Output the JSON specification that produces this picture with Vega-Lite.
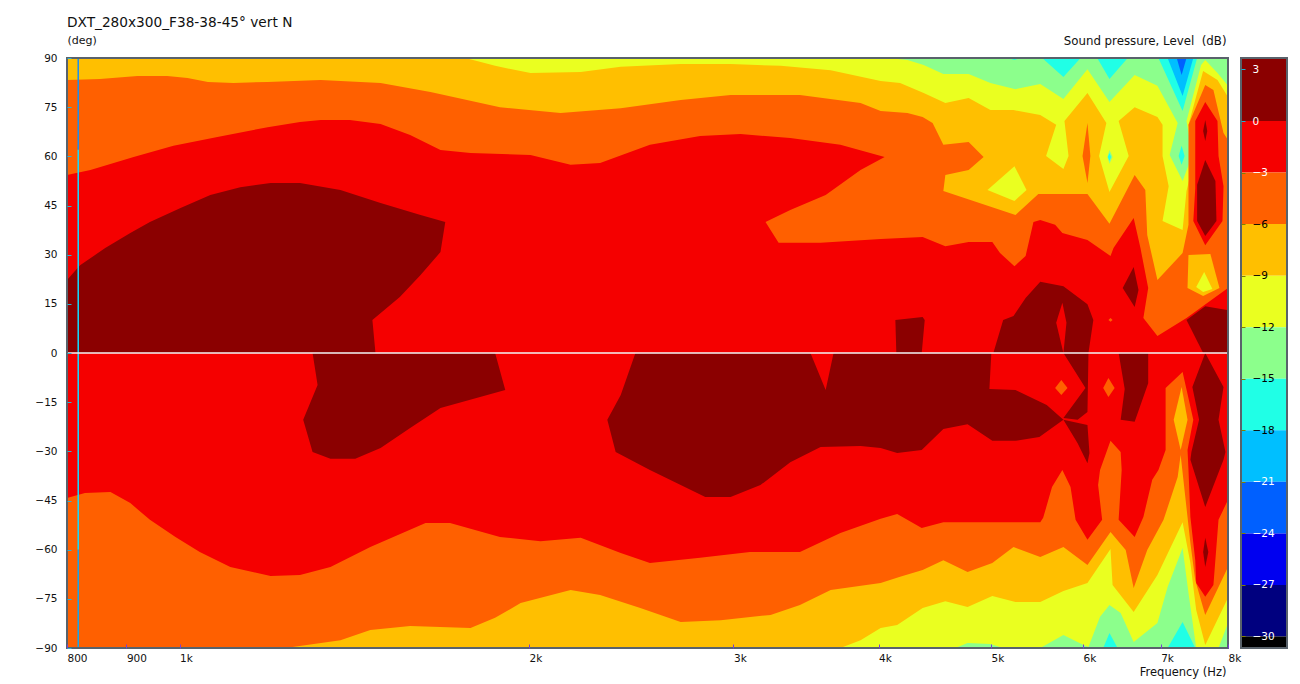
{"$schema":"https://vega.github.io/schema/vega-lite/v6.json","background":"white","padding":{"left":34,"top":16,"right":5,"bottom":5},"bounds":"flush","spacing":13,"config":{"view":{"stroke":null},"font":"DejaVu Sans"},
"datasets":{"polys":[
{"p":"t1","l":-15,"f":3939,"d":90},{"p":"t1","l":-15,"f":8000,"d":90},{"p":"t1","l":-15,"f":8000,"d":46.7},{"p":"t1","l":-15,"f":3939,"d":46.7},
{"p":"c0","l":-18,"f":5175,"d":90},{"p":"c0","l":-18,"f":5238,"d":89.4},{"p":"c0","l":-18,"f":5302,"d":90},
{"p":"c1","l":-18,"f":5534,"d":90},{"p":"c1","l":-18,"f":5772,"d":84.2},{"p":"c1","l":-18,"f":5972,"d":90},
{"p":"c2","l":-18,"f":6172,"d":90},{"p":"c2","l":-18,"f":6324,"d":83.6},{"p":"c2","l":-18,"f":6557,"d":90},
{"p":"c3","l":-18,"f":6969,"d":90},{"p":"c3","l":-18,"f":7311,"d":73.8},{"p":"c3","l":-18,"f":7525,"d":90},
{"p":"s1","l":-21,"f":7097,"d":90},{"p":"s1","l":-21,"f":7311,"d":78.4},{"p":"s1","l":-21,"f":7468,"d":90},
{"p":"b1","l":-24,"f":7226,"d":90},{"p":"b1","l":-24,"f":7297,"d":84.8},{"p":"b1","l":-24,"f":7368,"d":90},
{"p":"ty","l":-12,"f":1763,"d":90},{"p":"ty","l":-12,"f":4073,"d":90},{"p":"ty","l":-12,"f":4236,"d":89.4},{"p":"ty","l":-12,"f":4375,"d":87.9},{"p":"ty","l":-12,"f":4549,"d":85.1},{"p":"ty","l":-12,"f":4783,"d":85.1},{"p":"ty","l":-12,"f":4994,"d":82.4},{"p":"ty","l":-12,"f":5249,"d":80.5},{"p":"ty","l":-12,"f":5513,"d":82.1},{"p":"ty","l":-12,"f":5772,"d":77.5},{"p":"ty","l":-12,"f":6054,"d":86.6},{"p":"ty","l":-12,"f":6324,"d":76.6},{"p":"ty","l":-12,"f":6648,"d":84.8},{"p":"ty","l":-12,"f":6955,"d":81.5},{"p":"ty","l":-12,"f":7240,"d":70.2},{"p":"ty","l":-12,"f":7126,"d":60.4},{"p":"ty","l":-12,"f":7311,"d":52.5},{"p":"ty","l":-12,"f":7454,"d":60.4},{"p":"ty","l":-12,"f":7368,"d":70.8},{"p":"ty","l":-12,"f":7584,"d":87.9},{"p":"ty","l":-12,"f":7647,"d":89.4},{"p":"ty","l":-12,"f":7835,"d":85.4},{"p":"ty","l":-12,"f":8000,"d":81.5},{"p":"ty","l":-12,"f":8000,"d":0},{"p":"ty","l":-12,"f":1763,"d":0},
{"p":"ta","l":-9,"f":800,"d":90},{"p":"ta","l":-9,"f":1763,"d":90},{"p":"ta","l":-9,"f":1870,"d":87.6},{"p":"ta","l":-9,"f":2006,"d":85.4},{"p":"ta","l":-9,"f":2216,"d":85.7},{"p":"ta","l":-9,"f":2399,"d":87.3},{"p":"ta","l":-9,"f":2702,"d":88.2},{"p":"ta","l":-9,"f":2983,"d":88.2},{"p":"ta","l":-9,"f":3294,"d":87.6},{"p":"ta","l":-9,"f":3638,"d":86.3},{"p":"ta","l":-9,"f":4017,"d":83},{"p":"ta","l":-9,"f":4175,"d":82.4},{"p":"ta","l":-9,"f":4375,"d":79.3},{"p":"ta","l":-9,"f":4567,"d":76.3},{"p":"ta","l":-9,"f":4783,"d":77.8},{"p":"ta","l":-9,"f":4994,"d":74.1},{"p":"ta","l":-9,"f":5228,"d":74.1},{"p":"ta","l":-9,"f":5513,"d":72.6},{"p":"ta","l":-9,"f":5690,"d":69.6},{"p":"ta","l":-9,"f":5577,"d":60.1},{"p":"ta","l":-9,"f":5772,"d":56.1},{"p":"ta","l":-9,"f":5831,"d":60.1},{"p":"ta","l":-9,"f":5784,"d":70.8},{"p":"ta","l":-9,"f":6054,"d":79.3},{"p":"ta","l":-9,"f":6285,"d":70.2},{"p":"ta","l":-9,"f":6195,"d":60.1},{"p":"ta","l":-9,"f":6324,"d":49.1},{"p":"ta","l":-9,"f":6570,"d":60.1},{"p":"ta","l":-9,"f":6440,"d":70.8},{"p":"ta","l":-9,"f":6648,"d":75},{"p":"ta","l":-9,"f":6955,"d":72},{"p":"ta","l":-9,"f":7026,"d":69.6},{"p":"ta","l":-9,"f":7026,"d":60.1},{"p":"ta","l":-9,"f":7112,"d":50.9},{"p":"ta","l":-9,"f":7026,"d":40.3},{"p":"ta","l":-9,"f":7311,"d":37.5},{"p":"ta","l":-9,"f":7368,"d":49.4},{"p":"ta","l":-9,"f":7497,"d":60.4},{"p":"ta","l":-9,"f":7397,"d":69.6},{"p":"ta","l":-9,"f":7615,"d":86},{"p":"ta","l":-9,"f":7835,"d":83.3},{"p":"ta","l":-9,"f":8000,"d":78.1},{"p":"ta","l":-9,"f":8000,"d":0},{"p":"ta","l":-9,"f":800,"d":0},
{"p":"yi","l":-12,"f":4965,"d":49.7},{"p":"yi","l":-12,"f":5238,"d":57},{"p":"yi","l":-12,"f":5365,"d":49.7},{"p":"yi","l":-12,"f":5238,"d":46.4},
{"p":"gd","l":-15,"f":6324,"d":61.9},{"p":"gd","l":-15,"f":6363,"d":59.8},{"p":"gd","l":-15,"f":6324,"d":57.7},{"p":"gd","l":-15,"f":6298,"d":59.8},
{"p":"cd","l":-18,"f":6324,"d":61},{"p":"cd","l":-18,"f":6344,"d":59.8},{"p":"cd","l":-18,"f":6324,"d":58.6},{"p":"cd","l":-18,"f":6304,"d":59.8},
{"p":"ce","l":-18,"f":7297,"d":63.2},{"p":"ce","l":-18,"f":7340,"d":60.1},{"p":"ce","l":-18,"f":7297,"d":57.4},{"p":"ce","l":-18,"f":7254,"d":60.1},
{"p":"to","l":-6,"f":800,"d":83.3},{"p":"to","l":-6,"f":854,"d":83.6},{"p":"to","l":-6,"f":920,"d":84.5},{"p":"to","l":-6,"f":976,"d":84.5},{"p":"to","l":-6,"f":1016,"d":83.9},{"p":"to","l":-6,"f":1058,"d":82.7},{"p":"to","l":-6,"f":1113,"d":82.4},{"p":"to","l":-6,"f":1191,"d":82.7},{"p":"to","l":-6,"f":1323,"d":83.3},{"p":"to","l":-6,"f":1490,"d":82.4},{"p":"to","l":-6,"f":1645,"d":79.6},{"p":"to","l":-6,"f":1888,"d":75},{"p":"to","l":-6,"f":2129,"d":73.2},{"p":"to","l":-6,"f":2399,"d":74.7},{"p":"to","l":-6,"f":2702,"d":77.2},{"p":"to","l":-6,"f":2983,"d":78.7},{"p":"to","l":-6,"f":3423,"d":78.7},{"p":"to","l":-6,"f":3860,"d":76.3},{"p":"to","l":-6,"f":4017,"d":73.8},{"p":"to","l":-6,"f":4236,"d":73.2},{"p":"to","l":-6,"f":4366,"d":72},{"p":"to","l":-6,"f":4453,"d":70.2},{"p":"to","l":-6,"f":4549,"d":63.5},{"p":"to","l":-6,"f":4783,"d":64.4},{"p":"to","l":-6,"f":4927,"d":59.8},{"p":"to","l":-6,"f":4783,"d":55.8},{"p":"to","l":-6,"f":4567,"d":54.3},{"p":"to","l":-6,"f":4549,"d":49.4},{"p":"to","l":-6,"f":5249,"d":42.1},{"p":"to","l":-6,"f":5492,"d":48.5},{"p":"to","l":-6,"f":6054,"d":48.5},{"p":"to","l":-6,"f":6324,"d":39.4},{"p":"to","l":-6,"f":6648,"d":54.3},{"p":"to","l":-6,"f":6790,"d":49.7},{"p":"to","l":-6,"f":6816,"d":36},{"p":"to","l":-6,"f":6955,"d":22.3},{"p":"to","l":-6,"f":7311,"d":30.5},{"p":"to","l":-6,"f":7397,"d":39.1},{"p":"to","l":-6,"f":7397,"d":69.6},{"p":"to","l":-6,"f":7647,"d":81.8},{"p":"to","l":-6,"f":7772,"d":80.2},{"p":"to","l":-6,"f":7929,"d":67.1},{"p":"to","l":-6,"f":8000,"d":65},{"p":"to","l":-6,"f":8000,"d":0},{"p":"to","l":-6,"f":800,"d":0},
{"p":"oi","l":-6,"f":6054,"d":70.2},{"p":"oi","l":-6,"f":6089,"d":60.1},{"p":"oi","l":-6,"f":6054,"d":51.9},{"p":"oi","l":-6,"f":5995,"d":60.1},
{"p":"tr","l":-3,"f":800,"d":54.3},{"p":"tr","l":-3,"f":838,"d":55.8},{"p":"tr","l":-3,"f":913,"d":59.8},{"p":"tr","l":-3,"f":988,"d":63.2},{"p":"tr","l":-3,"f":1078,"d":65.9},{"p":"tr","l":-3,"f":1191,"d":68.9},{"p":"tr","l":-3,"f":1270,"d":70.5},{"p":"tr","l":-3,"f":1323,"d":71.1},{"p":"tr","l":-3,"f":1402,"d":71.1},{"p":"tr","l":-3,"f":1490,"d":69.9},{"p":"tr","l":-3,"f":1580,"d":66.5},{"p":"tr","l":-3,"f":1678,"d":61.9},{"p":"tr","l":-3,"f":1781,"d":61},{"p":"tr","l":-3,"f":2006,"d":60.4},{"p":"tr","l":-3,"f":2172,"d":57.4},{"p":"tr","l":-3,"f":2303,"d":58},{"p":"tr","l":-3,"f":2542,"d":63.5},{"p":"tr","l":-3,"f":2808,"d":66.2},{"p":"tr","l":-3,"f":3042,"d":66.8},{"p":"tr","l":-3,"f":3358,"d":65.6},{"p":"tr","l":-3,"f":3709,"d":63.5},{"p":"tr","l":-3,"f":4049,"d":59.8},{"p":"tr","l":-3,"f":3860,"d":55.8},{"p":"tr","l":-3,"f":3602,"d":48.2},{"p":"tr","l":-3,"f":3358,"d":43.6},{"p":"tr","l":-3,"f":3197,"d":40},{"p":"tr","l":-3,"f":3281,"d":33.6},{"p":"tr","l":-3,"f":3566,"d":33.6},{"p":"tr","l":-3,"f":4017,"d":34.8},{"p":"tr","l":-3,"f":4366,"d":35.4},{"p":"tr","l":-3,"f":4567,"d":32.6},{"p":"tr","l":-3,"f":4783,"d":33.9},{"p":"tr","l":-3,"f":5013,"d":33.9},{"p":"tr","l":-3,"f":5090,"d":30.5},{"p":"tr","l":-3,"f":5238,"d":26.5},{"p":"tr","l":-3,"f":5355,"d":29.6},{"p":"tr","l":-3,"f":5439,"d":40},{"p":"tr","l":-3,"f":5513,"d":40.6},{"p":"tr","l":-3,"f":5678,"d":39.1},{"p":"tr","l":-3,"f":5760,"d":36.6},{"p":"tr","l":-3,"f":6054,"d":34.5},{"p":"tr","l":-3,"f":6337,"d":29.6},{"p":"tr","l":-3,"f":6375,"d":32},{"p":"tr","l":-3,"f":6635,"d":41.2},{"p":"tr","l":-3,"f":6725,"d":32},{"p":"tr","l":-3,"f":6829,"d":19.8},{"p":"tr","l":-3,"f":6764,"d":10.7},{"p":"tr","l":-3,"f":6955,"d":5.2},{"p":"tr","l":-3,"f":7368,"d":10.7},{"p":"tr","l":-3,"f":8000,"d":19.8},{"p":"tr","l":-3,"f":8000,"d":0},{"p":"tr","l":-3,"f":800,"d":0},
{"p":"ap","l":-9,"f":7397,"d":29.9},{"p":"ap","l":-9,"f":7725,"d":30.2},{"p":"ap","l":-9,"f":7866,"d":19.8},{"p":"ap","l":-9,"f":7615,"d":17.4},{"p":"ap","l":-9,"f":7383,"d":19.8},
{"p":"yp","l":-12,"f":7631,"d":24.7},{"p":"yp","l":-12,"f":7756,"d":19.5},{"p":"yp","l":-12,"f":7615,"d":18.6},{"p":"yp","l":-12,"f":7511,"d":20.1},
{"p":"rs","l":-3,"f":7647,"d":76.6},{"p":"rs","l":-3,"f":7835,"d":70.8},{"p":"rs","l":-3,"f":7851,"d":60.1},{"p":"rs","l":-3,"f":7929,"d":50.9},{"p":"rs","l":-3,"f":7913,"d":40.3},{"p":"rs","l":-3,"f":7647,"d":32.9},{"p":"rs","l":-3,"f":7468,"d":40.3},{"p":"rs","l":-3,"f":7497,"d":50.3},{"p":"rs","l":-3,"f":7497,"d":70.8},
{"p":"d1","l":0,"f":7647,"d":71.1},{"p":"d1","l":0,"f":7678,"d":67.7},{"p":"d1","l":0,"f":7647,"d":64.7},{"p":"d1","l":0,"f":7615,"d":67.7},
{"p":"d2","l":0,"f":7647,"d":58.9},{"p":"d2","l":0,"f":7803,"d":52.5},{"p":"d2","l":0,"f":7819,"d":40.3},{"p":"d2","l":0,"f":7647,"d":35.7},{"p":"d2","l":0,"f":7525,"d":40.3},{"p":"d2","l":0,"f":7525,"d":51.3},
{"p":"d3","l":0,"f":800,"d":22.3},{"p":"d3","l":0,"f":821,"d":26.8},{"p":"d3","l":0,"f":863,"d":32},{"p":"d3","l":0,"f":907,"d":36.6},{"p":"d3","l":0,"f":943,"d":40},{"p":"d3","l":0,"f":1002,"d":44.2},{"p":"d3","l":0,"f":1063,"d":48.2},{"p":"d3","l":0,"f":1128,"d":50.6},{"p":"d3","l":0,"f":1198,"d":51.9},{"p":"d3","l":0,"f":1270,"d":51.9},{"p":"d3","l":0,"f":1376,"d":49.7},{"p":"d3","l":0,"f":1490,"d":45.8},{"p":"d3","l":0,"f":1613,"d":42.1},{"p":"d3","l":0,"f":1694,"d":40},{"p":"d3","l":0,"f":1678,"d":30.8},{"p":"d3","l":0,"f":1613,"d":23.8},{"p":"d3","l":0,"f":1548,"d":17.1},{"p":"d3","l":0,"f":1466,"d":10.1},{"p":"d3","l":0,"f":1475,"d":0},{"p":"d3","l":0,"f":800,"d":0},
{"p":"d4","l":0,"f":4136,"d":10.1},{"p":"d4","l":0,"f":4366,"d":11},{"p":"d4","l":0,"f":4384,"d":10.1},{"p":"d4","l":0,"f":4358,"d":0},{"p":"d4","l":0,"f":4144,"d":0},
{"p":"d5","l":0,"f":5023,"d":0},{"p":"d5","l":0,"f":5122,"d":10.1},{"p":"d5","l":0,"f":5228,"d":11.3},{"p":"d5","l":0,"f":5355,"d":16.8},{"p":"d5","l":0,"f":5513,"d":21.7},{"p":"d5","l":0,"f":5772,"d":20.4},{"p":"d5","l":0,"f":6054,"d":14.9},{"p":"d5","l":0,"f":6125,"d":10.1},{"p":"d5","l":0,"f":6066,"d":0},
{"p":"rh","l":-3,"f":5760,"d":15.3},{"p":"rh","l":-3,"f":5807,"d":9.2},{"p":"rh","l":-3,"f":5772,"d":0},{"p":"rh","l":-3,"f":5690,"d":9.2},
{"p":"d6","l":0,"f":6635,"d":26.2},{"p":"d6","l":0,"f":6699,"d":19.2},{"p":"d6","l":0,"f":6648,"d":14},{"p":"d6","l":0,"f":6492,"d":19.8},
{"p":"d7","l":0,"f":7368,"d":10.1},{"p":"d7","l":0,"f":7647,"d":14.3},{"p":"d7","l":0,"f":7984,"d":13.1},{"p":"d7","l":0,"f":8000,"d":0},{"p":"d7","l":0,"f":7615,"d":0},
{"p":"sp","l":-6,"f":6337,"d":10.7},{"p":"sp","l":-6,"f":6363,"d":10.1},{"p":"sp","l":-6,"f":6337,"d":9.5},{"p":"sp","l":-6,"f":6311,"d":10.1},
{"p":"g2","l":-15,"f":4610,"d":-57},{"p":"g2","l":-15,"f":8000,"d":-57},{"p":"g2","l":-15,"f":8000,"d":-90},{"p":"g2","l":-15,"f":4610,"d":-90},
{"p":"c5","l":-18,"f":6246,"d":-90},{"p":"c5","l":-18,"f":6324,"d":-85.4},{"p":"c5","l":-18,"f":6427,"d":-90},
{"p":"c6","l":-18,"f":7097,"d":-90},{"p":"c6","l":-18,"f":7311,"d":-82.1},{"p":"c6","l":-18,"f":7497,"d":-90},
{"p":"by","l":-12,"f":3709,"d":-90},{"p":"by","l":-12,"f":4658,"d":-90},{"p":"by","l":-12,"f":4773,"d":-88.5},{"p":"by","l":-12,"f":4994,"d":-88.8},{"p":"by","l":-12,"f":5122,"d":-90},{"p":"by","l":-12,"f":5513,"d":-90},{"p":"by","l":-12,"f":5772,"d":-86},{"p":"by","l":-12,"f":6007,"d":-89.1},{"p":"by","l":-12,"f":6066,"d":-89.7},{"p":"by","l":-12,"f":6207,"d":-80.5},{"p":"by","l":-12,"f":6324,"d":-76.9},{"p":"by","l":-12,"f":6466,"d":-79.3},{"p":"by","l":-12,"f":6635,"d":-88.2},{"p":"by","l":-12,"f":6955,"d":-82.4},{"p":"by","l":-12,"f":7097,"d":-71.4},{"p":"by","l":-12,"f":7311,"d":-59.5},{"p":"by","l":-12,"f":7397,"d":-73.2},{"p":"by","l":-12,"f":7511,"d":-90},{"p":"by","l":-12,"f":7851,"d":-90},{"p":"by","l":-12,"f":8000,"d":-82.4},{"p":"by","l":-12,"f":8000,"d":0},{"p":"by","l":-12,"f":3709,"d":0},
{"p":"ba","l":-9,"f":1234,"d":-90},{"p":"ba","l":-9,"f":3709,"d":-90},{"p":"ba","l":-9,"f":3860,"d":-87.6},{"p":"ba","l":-9,"f":4017,"d":-83.9},{"p":"ba","l":-9,"f":4151,"d":-83},{"p":"ba","l":-9,"f":4366,"d":-77.8},{"p":"ba","l":-9,"f":4567,"d":-75.7},{"p":"ba","l":-9,"f":4773,"d":-77.5},{"p":"ba","l":-9,"f":5013,"d":-74.1},{"p":"ba","l":-9,"f":5249,"d":-76},{"p":"ba","l":-9,"f":5513,"d":-76},{"p":"ba","l":-9,"f":5772,"d":-72.6},{"p":"ba","l":-9,"f":6054,"d":-70.2},{"p":"ba","l":-9,"f":6337,"d":-59.8},{"p":"ba","l":-9,"f":6363,"d":-70.8},{"p":"ba","l":-9,"f":6635,"d":-79},{"p":"ba","l":-9,"f":6955,"d":-67.7},{"p":"ba","l":-9,"f":7311,"d":-51.6},{"p":"ba","l":-9,"f":7425,"d":-64.1},{"p":"ba","l":-9,"f":7511,"d":-78.4},{"p":"ba","l":-9,"f":7647,"d":-89.1},{"p":"ba","l":-9,"f":8000,"d":-74.7},{"p":"ba","l":-9,"f":8000,"d":0},{"p":"ba","l":-9,"f":1234,"d":0},
{"p":"bo","l":-6,"f":800,"d":-90},{"p":"bo","l":-6,"f":1234,"d":-90},{"p":"bo","l":-6,"f":1376,"d":-87.6},{"p":"bo","l":-6,"f":1460,"d":-84.5},{"p":"bo","l":-6,"f":1580,"d":-83.3},{"p":"bo","l":-6,"f":1781,"d":-83.9},{"p":"bo","l":-6,"f":1870,"d":-80.8},{"p":"bo","l":-6,"f":1967,"d":-76.3},{"p":"bo","l":-6,"f":2172,"d":-72.3},{"p":"bo","l":-6,"f":2303,"d":-73.8},{"p":"bo","l":-6,"f":2494,"d":-77.8},{"p":"bo","l":-6,"f":2702,"d":-82.1},{"p":"bo","l":-6,"f":2925,"d":-81.5},{"p":"bo","l":-6,"f":3229,"d":-79.9},{"p":"bo","l":-6,"f":3423,"d":-76.9},{"p":"bo","l":-6,"f":3638,"d":-72.3},{"p":"bo","l":-6,"f":4017,"d":-70.2},{"p":"bo","l":-6,"f":4175,"d":-68.3},{"p":"bo","l":-6,"f":4366,"d":-66.2},{"p":"bo","l":-6,"f":4549,"d":-63.2},{"p":"bo","l":-6,"f":4773,"d":-66.8},{"p":"bo","l":-6,"f":5013,"d":-64.1},{"p":"bo","l":-6,"f":5228,"d":-59.2},{"p":"bo","l":-6,"f":5513,"d":-62.2},{"p":"bo","l":-6,"f":5772,"d":-59.2},{"p":"bo","l":-6,"f":6054,"d":-64.7},{"p":"bo","l":-6,"f":6337,"d":-54.6},{"p":"bo","l":-6,"f":6531,"d":-60.1},{"p":"bo","l":-6,"f":6635,"d":-71.7},{"p":"bo","l":-6,"f":6816,"d":-60.1},{"p":"bo","l":-6,"f":7040,"d":-50.9},{"p":"bo","l":-6,"f":7240,"d":-37.8},{"p":"bo","l":-6,"f":7283,"d":-31.1},{"p":"bo","l":-6,"f":7425,"d":-58},{"p":"bo","l":-6,"f":7497,"d":-69.3},{"p":"bo","l":-6,"f":7647,"d":-79.9},{"p":"bo","l":-6,"f":8000,"d":-65.3},{"p":"bo","l":-6,"f":8000,"d":0},{"p":"bo","l":-6,"f":800,"d":0},
{"p":"br","l":-3,"f":800,"d":0},{"p":"br","l":-3,"f":800,"d":-44.2},{"p":"br","l":-3,"f":829,"d":-42.7},{"p":"br","l":-3,"f":872,"d":-42.4},{"p":"br","l":-3,"f":907,"d":-45.8},{"p":"br","l":-3,"f":943,"d":-50.9},{"p":"br","l":-3,"f":992,"d":-56.1},{"p":"br","l":-3,"f":1041,"d":-60.7},{"p":"br","l":-3,"f":1106,"d":-65.3},{"p":"br","l":-3,"f":1198,"d":-68},{"p":"br","l":-3,"f":1270,"d":-67.7},{"p":"br","l":-3,"f":1349,"d":-65.3},{"p":"br","l":-3,"f":1460,"d":-59.2},{"p":"br","l":-3,"f":1629,"d":-51.9},{"p":"br","l":-3,"f":1710,"d":-51.9},{"p":"br","l":-3,"f":1888,"d":-56.1},{"p":"br","l":-3,"f":2046,"d":-57.4},{"p":"br","l":-3,"f":2216,"d":-56.4},{"p":"br","l":-3,"f":2399,"d":-61},{"p":"br","l":-3,"f":2542,"d":-64.1},{"p":"br","l":-3,"f":2808,"d":-62.5},{"p":"br","l":-3,"f":3100,"d":-60.7},{"p":"br","l":-3,"f":3423,"d":-60.7},{"p":"br","l":-3,"f":3709,"d":-54.9},{"p":"br","l":-3,"f":4017,"d":-50.6},{"p":"br","l":-3,"f":4151,"d":-49.1},{"p":"br","l":-3,"f":4358,"d":-53.4},{"p":"br","l":-3,"f":4549,"d":-51.6},{"p":"br","l":-3,"f":5013,"d":-51.6},{"p":"br","l":-3,"f":5513,"d":-51.6},{"p":"br","l":-3,"f":5545,"d":-50.3},{"p":"br","l":-3,"f":5643,"d":-40.9},{"p":"br","l":-3,"f":5760,"d":-35.7},{"p":"br","l":-3,"f":5854,"d":-40.9},{"p":"br","l":-3,"f":5913,"d":-50.9},{"p":"br","l":-3,"f":6054,"d":-57},{"p":"br","l":-3,"f":6233,"d":-50.9},{"p":"br","l":-3,"f":6183,"d":-40.3},{"p":"br","l":-3,"f":6207,"d":-35.7},{"p":"br","l":-3,"f":6337,"d":-26.8},{"p":"br","l":-3,"f":6466,"d":-30.2},{"p":"br","l":-3,"f":6479,"d":-35.7},{"p":"br","l":-3,"f":6440,"d":-50.9},{"p":"br","l":-3,"f":6648,"d":-56.1},{"p":"br","l":-3,"f":6764,"d":-50},{"p":"br","l":-3,"f":6884,"d":-38.7},{"p":"br","l":-3,"f":6969,"d":-35.7},{"p":"br","l":-3,"f":7069,"d":-29.6},{"p":"br","l":-3,"f":7069,"d":-10.7},{"p":"br","l":-3,"f":7311,"d":-5.8},{"p":"br","l":-3,"f":7468,"d":-20.4},{"p":"br","l":-3,"f":7383,"d":-29.6},{"p":"br","l":-3,"f":7397,"d":-35.7},{"p":"br","l":-3,"f":7425,"d":-50},{"p":"br","l":-3,"f":7497,"d":-63.2},{"p":"br","l":-3,"f":7511,"d":-70.2},{"p":"br","l":-3,"f":7647,"d":-74.4},{"p":"br","l":-3,"f":7772,"d":-70.8},{"p":"br","l":-3,"f":7851,"d":-50.9},{"p":"br","l":-3,"f":8000,"d":-44.8},{"p":"br","l":-3,"f":8000,"d":0},
{"p":"as","l":-9,"f":7297,"d":-10.4},{"p":"as","l":-9,"f":7383,"d":-20.4},{"p":"as","l":-9,"f":7283,"d":-29.6},{"p":"as","l":-9,"f":7183,"d":-20.4},
{"p":"l1","l":0,"f":1302,"d":0},{"p":"l1","l":0,"f":1315,"d":-9.8},{"p":"l1","l":0,"f":1278,"d":-20.4},{"p":"l1","l":0,"f":1302,"d":-30.2},{"p":"l1","l":0,"f":1349,"d":-32.3},{"p":"l1","l":0,"f":1417,"d":-32.3},{"p":"l1","l":0,"f":1490,"d":-29},{"p":"l1","l":0,"f":1580,"d":-22.9},{"p":"l1","l":0,"f":1678,"d":-16.8},{"p":"l1","l":0,"f":1908,"d":-11.3},{"p":"l1","l":0,"f":1870,"d":0},
{"p":"l2","l":0,"f":2470,"d":0},{"p":"l2","l":0,"f":2399,"d":-12.8},{"p":"l2","l":0,"f":2336,"d":-20.4},{"p":"l2","l":0,"f":2375,"d":-30.2},{"p":"l2","l":0,"f":2542,"d":-35.7},{"p":"l2","l":0,"f":2702,"d":-40.3},{"p":"l2","l":0,"f":2837,"d":-43.9},{"p":"l2","l":0,"f":2983,"d":-43.9},{"p":"l2","l":0,"f":3165,"d":-40.3},{"p":"l2","l":0,"f":3358,"d":-33.3},{"p":"l2","l":0,"f":3566,"d":-28.7},{"p":"l2","l":0,"f":3860,"d":-28.4},{"p":"l2","l":0,"f":4017,"d":-29},{"p":"l2","l":0,"f":4151,"d":-30.5},{"p":"l2","l":0,"f":4358,"d":-29.6},{"p":"l2","l":0,"f":4549,"d":-23.2},{"p":"l2","l":0,"f":4773,"d":-21.7},{"p":"l2","l":0,"f":5013,"d":-26.8},{"p":"l2","l":0,"f":5249,"d":-26.8},{"p":"l2","l":0,"f":5503,"d":-25.6},{"p":"l2","l":0,"f":5772,"d":-20.4},{"p":"l2","l":0,"f":5584,"d":-15.9},{"p":"l2","l":0,"f":5249,"d":-11.3},{"p":"l2","l":0,"f":4984,"d":-11},{"p":"l2","l":0,"f":5003,"d":0},{"p":"l2","l":0,"f":3659,"d":0},{"p":"l2","l":0,"f":3602,"d":-11.3},{"p":"l2","l":0,"f":3495,"d":0},
{"p":"l3","l":0,"f":5772,"d":0},{"p":"l3","l":0,"f":6030,"d":-10.7},{"p":"l3","l":0,"f":5772,"d":-19.8},{"p":"l3","l":0,"f":5937,"d":-20.4},{"p":"l3","l":0,"f":6054,"d":-18},{"p":"l3","l":0,"f":6066,"d":0},
{"p":"l4","l":0,"f":5772,"d":-20.4},{"p":"l4","l":0,"f":6054,"d":-22},{"p":"l4","l":0,"f":6078,"d":-30.5},{"p":"l4","l":0,"f":6054,"d":-33.6},{"p":"l4","l":0,"f":5937,"d":-27.5},
{"p":"l5","l":0,"f":6440,"d":0},{"p":"l5","l":0,"f":6518,"d":-11},{"p":"l5","l":0,"f":6466,"d":-20.4},{"p":"l5","l":0,"f":6648,"d":-21},{"p":"l5","l":0,"f":6829,"d":-9.2},{"p":"l5","l":0,"f":6829,"d":0},
{"p":"l6","l":0,"f":7647,"d":0},{"p":"l6","l":0,"f":7929,"d":-10.4},{"p":"l6","l":0,"f":7851,"d":-20.4},{"p":"l6","l":0,"f":7960,"d":-30.2},{"p":"l6","l":0,"f":7929,"d":-32.6},{"p":"l6","l":0,"f":7647,"d":-47},{"p":"l6","l":0,"f":7425,"d":-32.6},{"p":"l6","l":0,"f":7440,"d":-30.2},{"p":"l6","l":0,"f":7554,"d":-20.4},{"p":"l6","l":0,"f":7454,"d":-10.4},
{"p":"l7","l":0,"f":7647,"d":-56.4},{"p":"l7","l":0,"f":7694,"d":-60.7},{"p":"l7","l":0,"f":7647,"d":-65.3},{"p":"l7","l":0,"f":7615,"d":-60.7},
{"p":"o1","l":-6,"f":5748,"d":-8.2},{"p":"o1","l":-6,"f":5819,"d":-10.7},{"p":"o1","l":-6,"f":5748,"d":-12.8},{"p":"o1","l":-6,"f":5678,"d":-10.7},
{"p":"o2","l":-6,"f":6311,"d":-7.6},{"p":"o2","l":-6,"f":6389,"d":-10.7},{"p":"o2","l":-6,"f":6311,"d":-13.4},{"p":"o2","l":-6,"f":6246,"d":-10.7}
]},
"hconcat":[
{"width":1161,"height":590,
"title":{"text":"DXT_280x300_F38-38-45° vert N","anchor":"start","frame":"group","fontSize":13.7,"fontWeight":"normal","font":"DejaVu Sans","color":"#111111","offset":4},
"encoding":{"x":{"field":"f","type":"quantitative","scale":{"type":"log","domain":[800,8000],"nice":false},
"axis":{"zindex":1,"title":"Frequency (Hz)","titleFontWeight":"normal","titleFont":"DejaVu Sans","titleFontSize":11.5,"titleColor":"#111111","titleAlign":"right","titleAnchor":"end","titleX":1159,"titleY":18,"values":[800,900,1000,2000,3000,4000,5000,6000,7000,8000],"labelExpr":"datum.value>=1000?(datum.value/1000)+'k':datum.value","labelAlign":"left","labelFontSize":10.5,"labelColor":"#111111","labelPadding":9,"labelFlush":false,"labelOverlap":false,"labelBound":false,"tickSize":-4,"tickColor":"#7a3fd0","domain":false,"grid":false}},
"y":{"field":"d","type":"quantitative","scale":{"domain":[-90,90],"nice":false,"zero":false},
"axis":{"zindex":1,"title":"(deg)","titleFontWeight":"normal","titleFont":"DejaVu Sans","titleFontSize":11,"titleColor":"#111111","titleAngle":0,"titleAlign":"left","titleBaseline":"middle","titleX":0,"titleY":-18,"values":[-90,-75,-60,-45,-30,-15,0,15,30,45,60,75,90],"labelFontSize":10.5,"labelColor":"#111111","labelPadding":14,"labelOverlap":false,"labelBound":false,"labelFlush":false,"tickSize":-4,"tickColor":"#30b0d0","domain":false,"grid":false}}},
"layer":[
{"data":{"name":"polys"},"mark":{"type":"line","stroke":null,"strokeWidth":0,"clip":true},"encoding":{"fill":{"field":"l","type":"nominal","legend":null,"scale":{"domain":[0,-3,-6,-9,-12,-15,-18,-21,-24,-27,-30,-33],"range":["#8b0000","#f50000","#ff6000","#ffbf00","#eaff20","#8cff8c","#20ffe6","#00bfff","#0060ff","#0000f0","#00007f","#000000"]}},"detail":{"field":"p"},"order":{"value":null}}},
{"data":{"values":[{"f":818,"d":90,"d2":62},{"f":818,"d":62,"d2":-60},{"f":818,"d":-60,"d2":-90}]},"mark":{"type":"rule","strokeWidth":1.5},"encoding":{"y2":{"field":"d2"},"color":{"field":"d2","type":"ordinal","legend":null,"scale":{"domain":[62,-60,-90],"range":["#1a90f0","#10dcff","#10a8f0"]}}}},
{"data":{"values":[{"f":800,"f2":8000,"d":0}]},"mark":{"type":"rule","strokeWidth":1.5,"color":"#f2f6f6"},"encoding":{"x2":{"field":"f2"}}},
{"data":{"values":[{"f":800,"f2":8000,"d":-90,"d2":90}]},"mark":{"type":"rect","fillOpacity":0,"stroke":"#59626b","strokeWidth":2},"encoding":{"x2":{"field":"f2"},"y2":{"field":"d2"}}}
]},
{"width":46,"height":590,
"encoding":{"y":{"field":"hi","type":"quantitative","scale":{"domain":[-30.67,3.667],"nice":false,"zero":false},
"axis":{"zindex":1,"title":"Sound pressure, Level \u00a0(dB)","titleFontWeight":"normal","titleFont":"DejaVu Sans","titleFontSize":11.8,"titleColor":"#111111","titleAngle":0,"titleAlign":"right","titleBaseline":"middle","titleX":-15,"titleY":-18,"values":[3,0,-3,-6,-9,-12,-15,-18,-21,-24,-27,-30],"labelAlign":"left","labelFontSize":10.5,"labelPadding":-7,"labelOverlap":false,"labelBound":false,"labelFlush":false,"labelColor":{"condition":{"test":"datum.value>=-3||datum.value<=-21","value":"#ffffff"},"value":"#000000"},"tickSize":-4,"tickColor":{"condition":{"test":"datum.value>=0","value":"#20b0d0"},"value":"#808000"},"domain":false,"grid":false}}},
"layer":[
{"data":{"values":[{"l":0,"hi":3.667,"lo":0},{"l":-3,"hi":0,"lo":-3},{"l":-6,"hi":-3,"lo":-6},{"l":-9,"hi":-6,"lo":-9},{"l":-12,"hi":-9,"lo":-12},{"l":-15,"hi":-12,"lo":-15},{"l":-18,"hi":-15,"lo":-18},{"l":-21,"hi":-18,"lo":-21},{"l":-24,"hi":-21,"lo":-24},{"l":-27,"hi":-24,"lo":-27},{"l":-30,"hi":-27,"lo":-30},{"l":-33,"hi":-30,"lo":-30.67}]},"mark":{"type":"rect"},"encoding":{"y2":{"field":"lo"},"fill":{"field":"l","type":"nominal","legend":null,"scale":{"domain":[0,-3,-6,-9,-12,-15,-18,-21,-24,-27,-30,-33],"range":["#8b0000","#f50000","#ff6000","#ffbf00","#eaff20","#8cff8c","#20ffe6","#00bfff","#0060ff","#0000f0","#00007f","#000000"]}}}},
{"data":{"values":[{"hi":3.667,"lo":-30.67}]},"mark":{"type":"rect","fillOpacity":0,"stroke":"#59626b","strokeWidth":2},"encoding":{"y2":{"field":"lo"}}}
]}
]}
